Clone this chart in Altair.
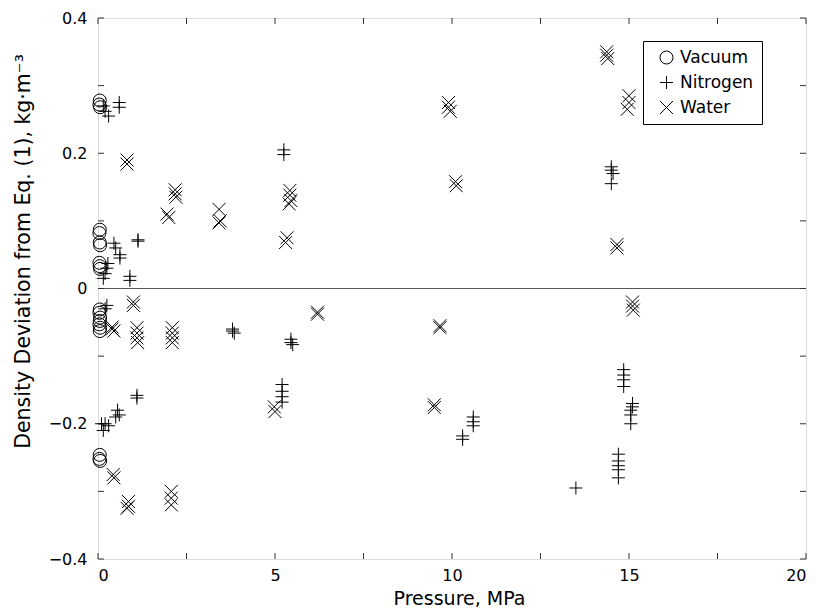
import altair as alt
import pandas as pd

# ---- data ----
vac_x = [0.05, 0.04, 0.06, 0.05, 0.04, 0.05, 0.06, 0.04, 0.05, 0.06,
         0.05, 0.04, 0.06, 0.05, 0.04, 0.06, 0.05, 0.05, 0.04, 0.06]
vac_y = [0.278, 0.272, 0.268, 0.087, 0.082, 0.068, 0.064, 0.038, 0.033, 0.029,
         -0.031, -0.036, -0.043, -0.048, -0.053, -0.058, -0.063, -0.246, -0.252, -0.255]

nit_x = [0.15, 0.2, 0.3, 0.6, 0.6,
         0.45, 0.5, 0.62, 0.62,
         1.13, 1.13,
         0.28, 0.25, 0.2, 0.15,
         0.9, 0.9,
         0.25, 0.2,
         3.8, 3.8, 3.85,
         5.45, 5.45, 5.5,
         5.2, 5.2, 5.2, 5.2,
         5.25, 5.25,
         1.1, 1.1,
         0.55, 0.6, 0.5,
         0.1, 0.2, 0.3, 0.15,
         10.6, 10.6, 10.6,
         10.3, 10.3,
         13.5,
         14.5, 14.5, 14.55, 14.5,
         14.85, 14.85, 14.85, 14.85,
         15.1, 15.1, 15.05, 15.05, 15.05,
         14.7, 14.7, 14.7, 14.7, 14.7]
nit_y = [0.27, 0.262, 0.255, 0.275, 0.268,
         0.067, 0.06, 0.045, 0.05,
         0.072, 0.07,
         0.037, 0.03, 0.022, 0.015,
         0.018, 0.012,
         -0.025, -0.03,
         -0.06, -0.063, -0.066,
         -0.075, -0.08, -0.083,
         -0.142, -0.152, -0.16, -0.168,
         0.205, 0.198,
         -0.158, -0.162,
         -0.18, -0.187, -0.19,
         -0.2, -0.2, -0.203, -0.21,
         -0.19, -0.197, -0.203,
         -0.218, -0.223,
         -0.295,
         0.18, 0.175, 0.17, 0.155,
         -0.12, -0.128, -0.135, -0.145,
         -0.17, -0.175, -0.18, -0.187, -0.2,
         -0.245, -0.255, -0.262, -0.268, -0.28]

wat_x = [0.82, 0.82,
         1.95, 2.0,
         2.18, 2.18, 2.2,
         3.42, 3.42, 3.45,
         5.42, 5.42, 5.45, 5.4,
         5.34, 5.3,
         9.9, 9.9, 9.95,
         10.1, 10.12,
         14.37, 14.37, 14.4,
         15.0, 15.0, 14.95,
         14.66, 14.66,
         1.0, 1.0,
         0.4, 0.45, 0.4,
         1.1, 1.1, 1.1, 1.12,
         2.1, 2.1, 2.1, 2.1,
         6.2, 6.2,
         4.98, 5.0,
         9.66, 9.66,
         9.5, 9.5,
         15.1, 15.1, 15.12,
         0.43, 0.45,
         0.86, 0.86, 0.82,
         2.07, 2.07, 2.07]
wat_y = [0.19, 0.184,
         0.11, 0.105,
         0.146, 0.14, 0.135,
         0.117, 0.097, 0.1,
         0.145, 0.138, 0.13, 0.125,
         0.075, 0.068,
         0.275, 0.268, 0.262,
         0.158, 0.152,
         0.35, 0.345, 0.34,
         0.285, 0.275, 0.265,
         0.065, 0.06,
         -0.02, -0.025,
         -0.057, -0.063, -0.06,
         -0.058, -0.066, -0.073, -0.08,
         -0.058, -0.066, -0.073, -0.08,
         -0.035, -0.038,
         -0.175, -0.182,
         -0.055, -0.058,
         -0.172, -0.176,
         -0.02, -0.026, -0.032,
         -0.275, -0.28,
         -0.315, -0.322, -0.325,
         -0.3, -0.31, -0.32]

series = ["Vacuum", "Nitrogen", "Water"]
x_ticks = [0, 2.5, 5, 7.5, 10, 12.5, 15, 17.5, 20]
x_labels = [0, 5, 10, 15, 20]
y_ticks = [-0.4, -0.3, -0.2, -0.1, 0, 0.1, 0.2, 0.3, 0.4]
y_labels = [-0.4, -0.2, 0, 0.2, 0.4]

df = pd.concat([
    pd.DataFrame({"p": vac_x, "d": vac_y, "medium": "Vacuum"}),
    pd.DataFrame({"p": nit_x, "d": nit_y, "medium": "Nitrogen"}),
    pd.DataFrame({"p": wat_x, "d": wat_y, "medium": "Water"}),
], ignore_index=True)

W, H = 708, 541
FONT = "DejaVu Sans"

xscale = alt.Scale(domain=[0, 20], nice=False, zero=False)
yscale = alt.Scale(domain=[-0.4, 0.4], nice=False, zero=False)

plus = "M-1,0L1,0M0,-1L0,1"
cross = "M-1,-1L1,1M-1,1L1,-1"

points = alt.Chart(df).mark_point(filled=False, size=169, strokeWidth=1, color="black", opacity=1).encode(
    x=alt.X("p:Q", scale=xscale,
            axis=alt.Axis(values=x_labels, ticks=False, domain=False, grid=False,
                          labelFontSize=16, labelPadding=8, labelColor="black",
                          title="Pressure, MPa", titleFontSize=19, titleFontWeight="normal",
                          titleX=361, titleY=45, titleBaseline="alphabetic", titleAlign="center",
                          titleColor="black", labelFont=FONT, titleFont=FONT)),
    y=alt.Y("d:Q", scale=yscale,
            axis=alt.Axis(values=y_labels, ticks=False, domain=False, grid=False,
                          labelFontSize=16, labelPadding=11, labelColor="black",
                          labelExpr="datum.value == 0 ? '0' : format(datum.value, '.1f')",
                          title="Density Deviation from Eq. (1), kg·m⁻³", titleFontSize=20.5,
                          titleFontWeight="normal", titleX=-69, titleY=233,
                          titleBaseline="alphabetic", titleAlign="center", titleAngle=270,
                          titleColor="black", labelFont=FONT, titleFont=FONT)),
    shape=alt.Shape("medium:N", scale=alt.Scale(domain=series, range=["circle", plus, cross]),
                    legend=alt.Legend(title=None, orient="none", legendX=545, legendY=23,
                                      strokeColor="black", fillColor="white", padding=8,
                                      symbolOffset=7, symbolSize=169, symbolStrokeWidth=1,
                                      symbolStrokeColor="black", symbolFillColor="transparent",
                                      labelFontSize=17, labelFont=FONT, labelColor="black",
                                      labelOffset=5, rowPadding=7)),
)

zero = alt.Chart(pd.DataFrame({"y": [0]})).mark_rule(color="#555", strokeWidth=1.2).encode(
    y=alt.Y("y:Q", scale=yscale)
)

xt = pd.DataFrame({"t": x_ticks})
yt = pd.DataFrame({"t": y_ticks})
tick_color = "#333"
bot = alt.Chart(xt).mark_rule(color=tick_color).encode(
    x=alt.X("t:Q", scale=xscale), y=alt.value(H), y2=alt.value(H - 6))
top = alt.Chart(xt).mark_rule(color=tick_color).encode(
    x=alt.X("t:Q", scale=xscale), y=alt.value(0), y2=alt.value(6))
left = alt.Chart(yt).mark_rule(color=tick_color).encode(
    y=alt.Y("t:Q", scale=yscale), x=alt.value(0), x2=alt.value(6))
right = alt.Chart(yt).mark_rule(color=tick_color).encode(
    y=alt.Y("t:Q", scale=yscale), x=alt.value(W), x2=alt.value(W - 6))

chart = alt.layer(zero, bot, top, left, right, points).properties(
    width=W, height=H,
    autosize=alt.AutoSizeParams(type="none"),
    padding={"left": 98, "top": 18, "right": 10, "bottom": 51},
).configure_view(stroke="#333", strokeWidth=1).configure(background="white")

chart.save("out.html", embed_options={"renderer": "svg", "actions": False})
